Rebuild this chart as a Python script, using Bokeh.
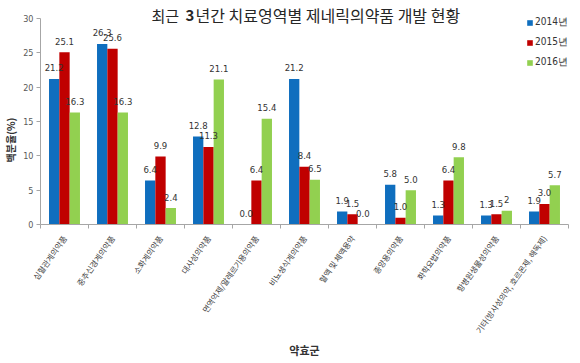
import math
from bokeh.plotting import figure
from bokeh.models import Range1d, FixedTicker, ColumnDataSource, Legend, LegendItem, Label, LabelSet
from bokeh.transform import dodge
from bokeh.core.properties import value
from bokeh.embed import file_html
from bokeh.resources import INLINE

categories = ["심혈관계의약품", "중추신경계의약품", "소화계의약품", "대사성의약품",
              "면역억제/알레르기용의약품", "비뇨생식계의약품", "혈액 및 체액용약",
              "종양용의약품", "화학요법의약품", "항병원생물성의약품",
              "기타(방사성의약, 호르몬제, 해독제)"]
years = ["2014년", "2015년", "2016년"]
v2014 = [21.2, 26.3, 6.4, 12.8, 0.0, 21.2, 1.9, 5.8, 1.3, 1.3, 1.9]
v2015 = [25.1, 25.6, 9.9, 11.3, 6.4, 8.4, 1.5, 1.0, 6.4, 1.5, 3.0]
v2016 = [16.3, 16.3, 2.4, 21.1, 15.4, 6.5, 0.0, 5.0, 9.8, 2.0, 5.7]
t2014 = ["21.2", "26.3", "6.4", "12.8", "0.0", "21.2", "1.9", "5.8", "1.3", "1.3", "1.9"]
t2015 = ["25.1", "25.6", "9.9", "11.3", "6.4", "8.4", "1.5", "1.0", "6.4", "1.5", "3.0"]
t2016 = ["16.3", "16.3", "2.4", "21.1", "15.4", "6.5", "0.0", "5.0", "9.8", "2", "5.7"]
yticks = [0, 5, 10, 15, 20, 25, 30]

colors = ["#0f6ebe", "#c00000", "#92d050"]
KR = "Noto Sans CJK KR"
NUM = "'Liberation Sans Narrow', 'DejaVu Sans Condensed', 'Liberation Sans', sans-serif"

n = len(categories)
xc = [i + 0.5 for i in range(n)]
src = ColumnDataSource(dict(x=xc, a=v2014, b=v2015, c=v2016, ta=t2014, tb=t2015, tc=t2016))

p = figure(frame_width=528, frame_height=224, output_backend="svg", toolbar_location=None,
           x_range=Range1d(0, n), y_range=Range1d(0, 32.62),
           min_border_left=31, min_border_right=5, min_border_top=0, min_border_bottom=10)
p.outline_line_color = None
p.xgrid.visible = False
p.ygrid.visible = False
p.background_fill_color = "white"

bw = 0.215
offs = [-bw, 0.0, bw]
renderers = []
for col, tcol, off, c in zip(["a", "b", "c"], ["ta", "tb", "tc"], offs, colors):
    r = p.vbar(x=dodge("x", off), top=col, width=bw, bottom=0, source=src,
               fill_color=c, line_color=None)
    renderers.append(r)
    ls = LabelSet(x=dodge("x", off), y=col, text=tcol, source=src, y_offset=11,
                  text_align="center", text_baseline="middle",
                  text_font=value(NUM), text_font_size="9.5px", text_color="#333333")
    p.add_layout(ls)

# axes
ya = p.yaxis[0]
ya.ticker = FixedTicker(ticks=yticks)
ya.bounds = (0, 30)
ya.major_label_text_font_size = "9px"
ya.major_label_text_color = "#595959"
ya.major_label_text_font = NUM
ya.major_label_standoff = 3
ya.axis_line_color = "#a6a6a6"
ya.major_tick_line_color = "#a6a6a6"
ya.major_tick_out = 4
ya.major_tick_in = 0
ya.minor_tick_line_color = None
# trailing ideographic spaces push the visible label down to where the reference has it
ya.axis_label = "백분율(%)" + "\u3000" * 5 + "\u2002"
ya.axis_label_text_font = KR
ya.axis_label_text_font_style = "bold"
ya.axis_label_text_font_size = "10px"
ya.axis_label_text_color = "#333333"
ya.axis_label_standoff = 2

xa = p.xaxis[0]
xa.ticker = FixedTicker(ticks=xc, minor_ticks=list(range(n + 1)))
xa.major_label_overrides = {x: name for x, name in zip(xc, categories)}
xa.major_label_orientation = math.radians(55)
xa.major_label_text_font = KR
xa.major_label_text_font_size = "8px"
xa.major_label_text_color = "#404040"
xa.major_tick_line_color = None
xa.major_label_standoff = 6
xa.minor_tick_line_color = "#a6a6a6"
xa.minor_tick_out = 4
xa.minor_tick_in = 0
xa.axis_line_color = "#a6a6a6"
xa.axis_label = "약효군"
xa.axis_label_text_font = KR
xa.axis_label_text_font_style = "bold"
xa.axis_label_text_font_size = "11px"
xa.axis_label_text_color = "#333333"
xa.axis_label_standoff = 1

# legend
legend = Legend(items=[LegendItem(label=y, renderers=[r]) for y, r in zip(years, renderers)],
                location=(486, 155), orientation="vertical",
                glyph_width=7, glyph_height=7, label_height=14, spacing=6,
                padding=0, margin=0, label_standoff=2,
                label_text_font=NUM, label_text_font_size="10px", label_text_color="#333333",
                background_fill_alpha=0, border_line_color=None)
p.add_layout(legend, "center")

# title (with bold 3)
ty = 30.44
p.add_layout(Label(x=2.3125, y=ty, text="최근", text_font=KR, text_font_size="15px",
                   text_color="#262626", text_align="left", text_baseline="middle"))
p.add_layout(Label(x=3.02, y=ty, text="3", text_font=KR, text_font_size="15px", text_font_style="bold",
                   text_color="#262626", text_align="left", text_baseline="middle"))
p.add_layout(Label(x=3.23, y=ty, text="년간 치료영역별 제네릭의약품 개발 현황", text_font=KR,
                   text_font_size="16px", text_color="#262626", text_align="left", text_baseline="middle"))

open("out.html", "w").write(file_html(p, INLINE))
